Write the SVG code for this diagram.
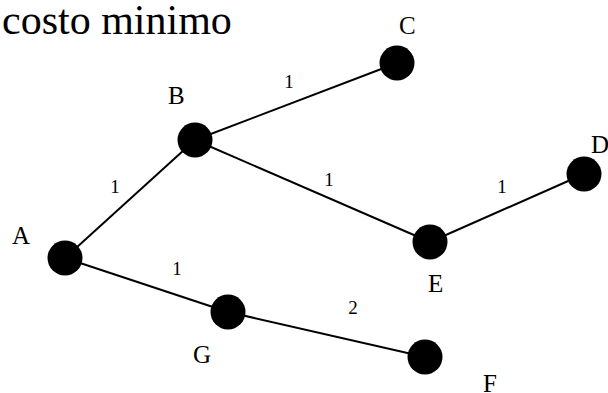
<svg xmlns="http://www.w3.org/2000/svg" width="608" height="393" viewBox="0 0 608 393">
<rect width="608" height="393" fill="#ffffff"/>
<text x="2" y="34" font-size="42" font-family="'Liberation Serif', 'Times New Roman', Times, serif">costo minimo</text>
<g id="edges" stroke="#000000" stroke-width="2" fill="none">
<line x1="65" y1="258" x2="195" y2="140"/>
<line x1="195" y1="140" x2="397" y2="63"/>
<line x1="195" y1="140" x2="430" y2="242"/>
<line x1="430" y1="242" x2="584" y2="174"/>
<line x1="65" y1="258" x2="228" y2="312"/>
<line x1="228" y1="312" x2="425" y2="357"/>
</g>
<g id="edge-labels" font-family="'Liberation Serif', 'Times New Roman', Times, serif" font-size="19" text-anchor="middle">
<text x="289" y="88">1</text>
<text x="115" y="193">1</text>
<text x="177" y="275">1</text>
<text x="329" y="186">1</text>
<text x="502" y="193">1</text>
<text x="353" y="314">2</text>
</g>
<g font-family="'Liberation Serif', 'Times New Roman', Times, serif" font-size="25">
<g id="A"><circle cx="65" cy="258" r="17.5"/><text x="12" y="244">A</text></g>
<g id="B"><circle cx="195" cy="140" r="17.5"/><text x="168" y="104">B</text></g>
<g id="C"><circle cx="397" cy="63" r="17.5"/><text x="399" y="34">C</text></g>
<g id="D"><circle cx="584" cy="174" r="17.5"/><text x="591" y="153">D</text></g>
<g id="E"><circle cx="430" cy="242" r="17.5"/><text x="428" y="292">E</text></g>
<g id="F"><circle cx="425" cy="357" r="17.5"/><text x="483" y="392">F</text></g>
<g id="G"><circle cx="228" cy="312" r="17.5"/><text x="193" y="363">G</text></g>
</g>
</svg>
